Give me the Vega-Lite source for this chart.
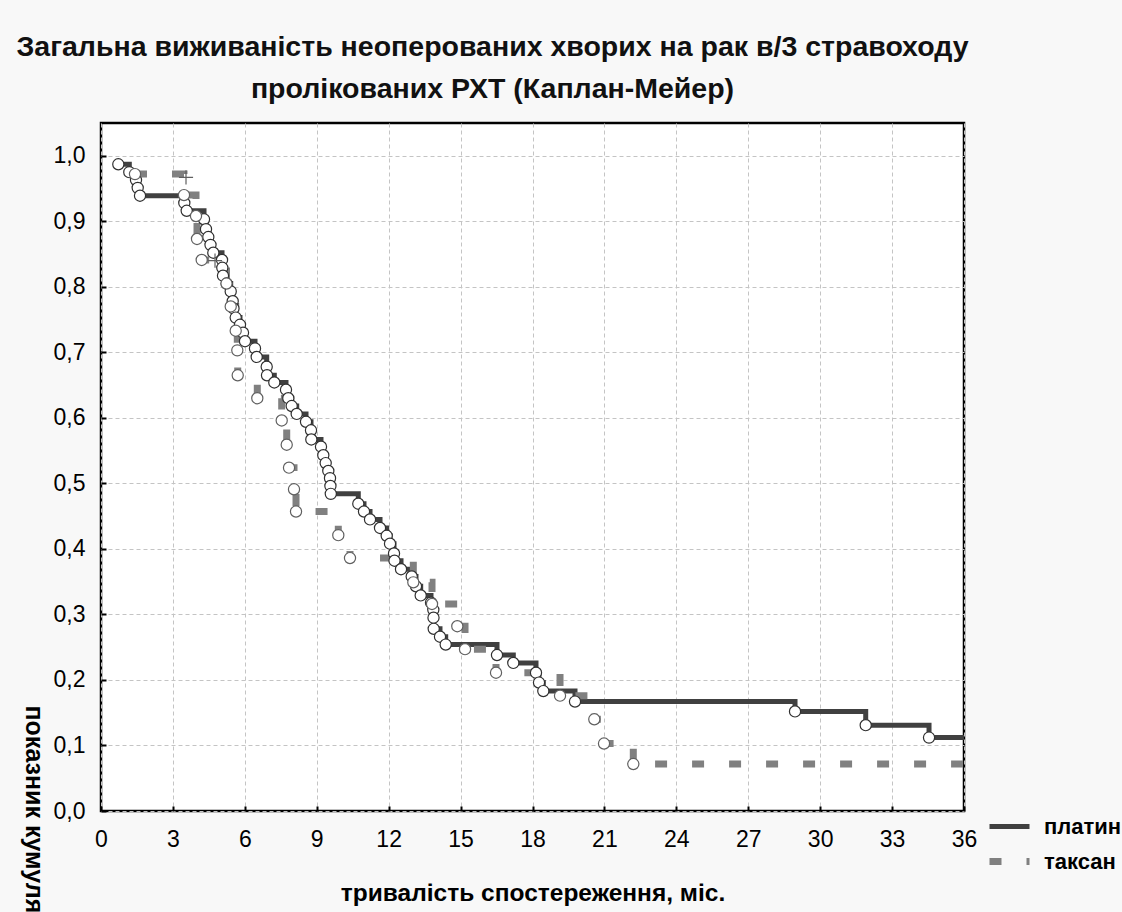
{
  "$schema": "https://vega.github.io/schema/vega-lite/v6.json",
  "width": 863,
  "height": 688,
  "autosize": "none",
  "padding": {"left": 101, "top": 123, "right": 158, "bottom": 101},
  "background": "#f8f8f8",
  "title": {
    "text": ["Загальна виживаність неоперованих хворих на рак в/3 стравоходу", "пролікованих РХТ (Каплан-Мейер)"],
    "anchor": "middle",
    "frame": "group",
    "font": "Liberation Sans",
    "fontSize": 28.5,
    "fontWeight": "bold",
    "color": "#111111",
    "lineHeight": 42,
    "dx": -40,
    "offset": 20
  },
  "data": {
    "values": [
      {"g": "платин", "t": 0.722, "s": 0.987, "m": "o"},
      {"g": "платин", "t": 1.181, "s": 0.975, "m": "o"},
      {"g": "платин", "t": 1.460, "s": 0.963, "m": "o"},
      {"g": "платин", "t": 1.531, "s": 0.951, "m": "o"},
      {"g": "платин", "t": 1.627, "s": 0.939, "m": "o"},
      {"g": "платин", "t": 3.475, "s": 0.928, "m": "o"},
      {"g": "платин", "t": 3.575, "s": 0.916, "m": "o"},
      {"g": "платин", "t": 4.297, "s": 0.903, "m": "o"},
      {"g": "платин", "t": 4.380, "s": 0.888, "m": "o"},
      {"g": "платин", "t": 4.476, "s": 0.876, "m": "o"},
      {"g": "платин", "t": 4.568, "s": 0.864, "m": "o"},
      {"g": "платин", "t": 4.685, "s": 0.852, "m": "o"},
      {"g": "платин", "t": 5.048, "s": 0.841, "m": "o"},
      {"g": "платин", "t": 5.060, "s": 0.829, "m": "o"},
      {"g": "платин", "t": 5.089, "s": 0.817, "m": "o"},
      {"g": "платин", "t": 5.244, "s": 0.805, "m": "o"},
      {"g": "платин", "t": 5.411, "s": 0.793, "m": "o"},
      {"g": "платин", "t": 5.494, "s": 0.778, "m": "o"},
      {"g": "платин", "t": 5.527, "s": 0.767, "m": "o"},
      {"g": "платин", "t": 5.619, "s": 0.753, "m": "o"},
      {"g": "платин", "t": 5.798, "s": 0.742, "m": "o"},
      {"g": "платин", "t": 5.924, "s": 0.730, "m": "o"},
      {"g": "платин", "t": 6.007, "s": 0.717, "m": "o"},
      {"g": "платин", "t": 6.424, "s": 0.706, "m": "o"},
      {"g": "платин", "t": 6.495, "s": 0.693, "m": "o"},
      {"g": "платин", "t": 6.912, "s": 0.678, "m": "o"},
      {"g": "платин", "t": 6.925, "s": 0.665, "m": "o"},
      {"g": "платин", "t": 7.229, "s": 0.654, "m": "o"},
      {"g": "платин", "t": 7.717, "s": 0.643, "m": "o"},
      {"g": "платин", "t": 7.813, "s": 0.630, "m": "o"},
      {"g": "платин", "t": 7.955, "s": 0.618, "m": "o"},
      {"g": "платин", "t": 8.164, "s": 0.606, "m": "o"},
      {"g": "платин", "t": 8.552, "s": 0.594, "m": "o"},
      {"g": "платин", "t": 8.760, "s": 0.581, "m": "o"},
      {"g": "платин", "t": 8.773, "s": 0.567, "m": "o"},
      {"g": "платин", "t": 9.177, "s": 0.556, "m": "o"},
      {"g": "платин", "t": 9.273, "s": 0.543, "m": "o"},
      {"g": "платин", "t": 9.373, "s": 0.531, "m": "o"},
      {"g": "платин", "t": 9.482, "s": 0.519, "m": "o"},
      {"g": "платин", "t": 9.553, "s": 0.508, "m": "o"},
      {"g": "платин", "t": 9.570, "s": 0.496, "m": "o"},
      {"g": "платин", "t": 9.586, "s": 0.484, "m": "o"},
      {"g": "платин", "t": 10.733, "s": 0.469, "m": "o"},
      {"g": "платин", "t": 10.971, "s": 0.457, "m": "o"},
      {"g": "платин", "t": 11.222, "s": 0.445, "m": "o"},
      {"g": "платин", "t": 11.639, "s": 0.432, "m": "o"},
      {"g": "платин", "t": 11.918, "s": 0.420, "m": "o"},
      {"g": "платин", "t": 12.056, "s": 0.408, "m": "o"},
      {"g": "платин", "t": 12.223, "s": 0.393, "m": "o"},
      {"g": "платин", "t": 12.243, "s": 0.382, "m": "o"},
      {"g": "платин", "t": 12.515, "s": 0.369, "m": "o"},
      {"g": "платин", "t": 12.961, "s": 0.358, "m": "o"},
      {"g": "платин", "t": 13.140, "s": 0.343, "m": "o"},
      {"g": "платин", "t": 13.336, "s": 0.329, "m": "o"},
      {"g": "платин", "t": 13.766, "s": 0.318, "m": "o"},
      {"g": "платин", "t": 13.862, "s": 0.307, "m": "o"},
      {"g": "платин", "t": 13.870, "s": 0.295, "m": "o"},
      {"g": "платин", "t": 13.879, "s": 0.278, "m": "o"},
      {"g": "платин", "t": 14.141, "s": 0.266, "m": "o"},
      {"g": "платин", "t": 14.379, "s": 0.254, "m": "o"},
      {"g": "платин", "t": 16.519, "s": 0.238, "m": "o"},
      {"g": "платин", "t": 17.199, "s": 0.226, "m": "o"},
      {"g": "платин", "t": 18.146, "s": 0.211, "m": "o"},
      {"g": "платин", "t": 18.271, "s": 0.196, "m": "o"},
      {"g": "платин", "t": 18.451, "s": 0.183, "m": "o"},
      {"g": "платин", "t": 19.773, "s": 0.167, "m": "o"},
      {"g": "платин", "t": 28.951, "s": 0.152, "m": "o"},
      {"g": "платин", "t": 31.900, "s": 0.131, "m": "o"},
      {"g": "платин", "t": 34.541, "s": 0.112, "m": "o"},
      {"g": "платин", "t": 36.0, "s": 0.112, "m": "end"},
      {"g": "таксан", "t": 1.418, "s": 0.972, "m": "o"},
      {"g": "таксан", "t": 3.462, "s": 0.940, "m": "o"},
      {"g": "таксан", "t": 3.546, "s": 0.967, "m": "+"},
      {"g": "таксан", "t": 3.963, "s": 0.908, "m": "o"},
      {"g": "таксан", "t": 4.005, "s": 0.873, "m": "o"},
      {"g": "таксан", "t": 4.201, "s": 0.841, "m": "o"},
      {"g": "таксан", "t": 4.756, "s": 0.840, "m": "+"},
      {"g": "таксан", "t": 5.235, "s": 0.805, "m": "o"},
      {"g": "таксан", "t": 5.411, "s": 0.770, "m": "o"},
      {"g": "таксан", "t": 5.619, "s": 0.733, "m": "o"},
      {"g": "таксан", "t": 5.686, "s": 0.703, "m": "o"},
      {"g": "таксан", "t": 5.703, "s": 0.665, "m": "o"},
      {"g": "таксан", "t": 6.520, "s": 0.630, "m": "o"},
      {"g": "таксан", "t": 7.538, "s": 0.596, "m": "o"},
      {"g": "таксан", "t": 7.747, "s": 0.559, "m": "o"},
      {"g": "таксан", "t": 7.843, "s": 0.524, "m": "o"},
      {"g": "таксан", "t": 8.051, "s": 0.491, "m": "o"},
      {"g": "таксан", "t": 8.135, "s": 0.457, "m": "o"},
      {"g": "таксан", "t": 9.899, "s": 0.421, "m": "o"},
      {"g": "таксан", "t": 10.387, "s": 0.386, "m": "o"},
      {"g": "таксан", "t": 13.028, "s": 0.349, "m": "o"},
      {"g": "таксан", "t": 13.808, "s": 0.316, "m": "o"},
      {"g": "таксан", "t": 14.863, "s": 0.282, "m": "o"},
      {"g": "таксан", "t": 15.185, "s": 0.247, "m": "o"},
      {"g": "таксан", "t": 16.478, "s": 0.211, "m": "o"},
      {"g": "таксан", "t": 19.148, "s": 0.176, "m": "o"},
      {"g": "таксан", "t": 20.578, "s": 0.140, "m": "o"},
      {"g": "таксан", "t": 20.983, "s": 0.103, "m": "o"},
      {"g": "таксан", "t": 22.205, "s": 0.0717, "m": "o"},
      {"g": "таксан", "t": 36.0, "s": 0.0717, "m": "end"}
    ]
  },
  "encoding": {
    "x": {
      "field": "t",
      "type": "quantitative",
      "scale": {"domain": [0, 36], "nice": false, "zero": false},
      "axis": {
        "values": [0, 3, 6, 9, 12, 15, 18, 21, 24, 27, 30, 33, 36],
        "title": "тривалість спостереження, міс.",
        "titleFontSize": 24.5,
        "titleY": 89,
        "titleBaseline": "alphabetic",
        "labelPadding": 22,
        "labelFlush": false,
        "labelOverlap": false
      }
    },
    "y": {
      "field": "s",
      "type": "quantitative",
      "scale": {"domain": [0, 1.05], "nice": false},
      "axis": {
        "values": [0, 0.1, 0.2, 0.3, 0.4, 0.5, 0.6, 0.7, 0.8, 0.9, 1.0],
        "labelExpr": "replace(format(datum.value, '.1f'), '.', ',')",
        "title": "показник кумулятивного виживання",
        "titleFontSize": 25,
        "titleAngle": 90,
        "titleAlign": "left",
        "titleBaseline": "middle",
        "titleX": -68,
        "titleY": 582,
        "labelPadding": 21,
        "labelFlush": false,
        "labelOverlap": false
      }
    }
  },
  "layer": [
    {
      "transform": [{"filter": "datum.m != '+'"}],
      "mark": {"type": "line", "interpolate": "step-after", "strokeCap": "butt", "strokeJoin": "miter", "clip": false},
      "encoding": {
        "color": {
          "field": "g",
          "type": "nominal",
          "scale": {"domain": ["платин", "таксан"], "range": ["#404040", "#808080"]},
          "legend": {
            "title": null,
            "orient": "none",
            "legendX": 885,
            "legendY": 681,
            "symbolType": "stroke",
            "symbolSize": 1600,
            "symbolStrokeWidth": 6,
            "labelFont": "Liberation Sans",
            "labelFontSize": 22,
            "labelFontWeight": "bold",
            "labelColor": "#000",
            "labelOffset": 11,
            "rowPadding": -17
          }
        },
        "strokeDash": {
          "field": "g",
          "type": "nominal",
          "scale": {"domain": ["платин", "таксан"], "range": [[1, 0], [12, 25]]},
          "legend": null
        },
        "strokeWidth": {
          "field": "g",
          "type": "nominal",
          "scale": {"domain": ["платин", "таксан"], "range": [5, 7]},
          "legend": null
        },
        "order": {"field": "t", "type": "quantitative"}
      }
    },
    {
      "transform": [{"filter": "datum.m == 'o'"}],
      "mark": {"type": "point", "shape": "circle", "filled": false, "fill": "#ffffff", "fillOpacity": 1, "size": 125, "strokeWidth": 1.2, "opacity": 1},
      "encoding": {
        "stroke": {
          "field": "g",
          "type": "nominal",
          "scale": {"domain": ["платин", "таксан"], "range": ["#303030", "#606060"]},
          "legend": null
        }
      }
    },
    {
      "transform": [{"filter": "datum.m == '+'"}],
      "mark": {"type": "point", "shape": "M-1,0L1,0M0,-1L0,1", "filled": false, "size": 200, "stroke": "#606060", "strokeWidth": 1.2, "opacity": 1}
    }
  ],
  "config": {
    "font": "Liberation Sans",
    "view": {"stroke": "#000000", "strokeWidth": 2.5, "fill": "#ffffff"},
    "axis": {
      "domain": false,
      "grid": true,
      "gridColor": "#c4c4c4",
      "gridDash": [4, 3],
      "gridWidth": 1,
      "ticks": true,
      "tickColor": "#000000",
      "tickSize": -5,
      "tickWidth": 2,
      "labelFont": "Liberation Sans",
      "labelFontSize": 23,
      "labelColor": "#000000",
      "titleFont": "Liberation Sans",
      "titleFontSize": 24,
      "titleFontWeight": "bold",
      "titleColor": "#000000"
    }
  }
}
